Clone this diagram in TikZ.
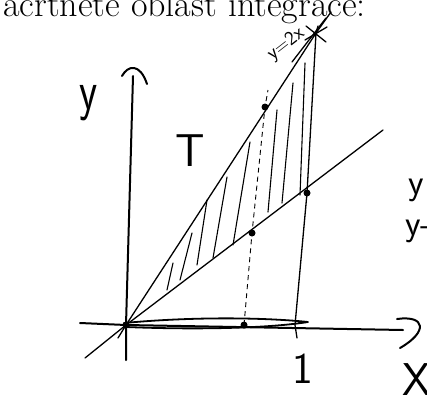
\documentclass[tikz,border=0pt]{standalone}
\usetikzlibrary{positioning}
\begin{document}
\begin{tikzpicture}[x=1pt,y=-1pt,
pen/.style={line width=1.3pt, line cap=round, line join=round},
axis/.style={line width=2pt, line cap=round, line join=round},
hatch/.style={line width=1.1pt, line cap=round},
guide/.style={line width=0.9pt, dash pattern=on 5pt off 4pt},
dot/.style={circle, fill, inner sep=0pt, minimum size=7pt},
hand/.style={font=\sffamily\fontsize{#1}{#1}\selectfont, inner sep=0pt}
]
\useasboundingbox (0,0) rectangle (427,396);

% heading
\node[anchor=base west, inner sep=0pt, font=\fontsize{36}{42}\selectfont] (title) at (3,17) {acrtnete oblast integrace:};

% points
\coordinate (O) at (126,325);
\coordinate (P) at (316,33);
\coordinate (Q) at (307,193);
\coordinate (R) at (252,233);
\coordinate (S) at (265,107);
\coordinate (A) at (295,325);
\coordinate (B) at (244,325);

% axes
\draw[axis] (80,323) -- (O) -- (403,330);
\draw[axis] (397,319) .. controls (426,315) and (428,332) .. (400,348);
\draw[axis] (126,360) -- (O) -- (133,76);
\draw[axis] (122,76) .. controls (128,65) and (140,63) .. (147,84);

% lines y=x, y=2x, x=1
\draw[pen] (85,358) -- (O) -- (383,130);
\draw[pen] (118,338) -- (O) -- (P) -- (331,12);
\draw[pen] (292,62) -- (326,18);
\draw[pen] (297,338) -- (A) -- (Q) -- (P) -- (318,26);

% asterisk at the top
\draw[pen] (306,26) -- (326,42);
\draw[pen] (305,40) -- (327,27);

% dashed guide
\draw[guide] (B) -- (R) -- (S) -- (268,90);

% hatching of T
\foreach \xa/\ya/\xb/\yb in {167/290/173/263, 180/280/192/233, 197/265/207/200,
  213/258/227/177, 233/245/250/142, 268/212/277/110, 282/203/293/83, 300/195/305/63}
  \draw[hatch] (\xa,\ya) -- (\xb,\yb);

% bold segment on the x axis
\draw[axis, line width=1.8pt] (124,323) .. controls (200,316) and (270,318) .. (308,322)
  .. controls (270,328) and (200,330) .. (126,327);

% dots
\foreach \p in {O,Q,R,S,B}
  \node[dot] at (\p) {};

% labels
\node[hand=56, xscale=0.75] (ylab) at (89,103) {y};
\node[hand=46] (Tlab) at (190,151) {T};
\node[hand=44] (onelab) at (303,369) {1};
\node[hand=46] (xlab) at (417,380) {X};
\node[hand=20, rotate=38] (eqlab) at (286,44) {y=2x};
\node[hand=36] (yr1) at (416,190) {y};
\node[hand=36, anchor=west] (yr2) at (405,231) {y-};
\end{tikzpicture}
\end{document}
